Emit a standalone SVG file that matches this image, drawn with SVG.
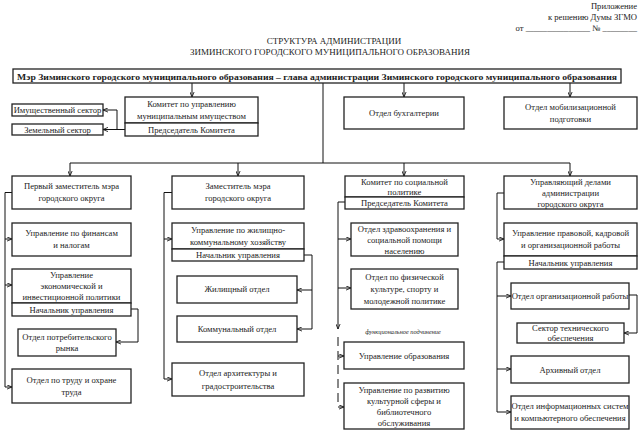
<svg xmlns="http://www.w3.org/2000/svg" width="643" height="442" viewBox="0 0 643 442">
<defs>
<marker id="ah" viewBox="0 0 6 6" refX="6" refY="3" markerWidth="5" markerHeight="5" orient="auto" markerUnits="userSpaceOnUse">
<path d="M0,0.5 L6,3 L0,5.5" fill="none" stroke="#111" stroke-width="1"/>
</marker>
<style>
rect{fill:#fff;stroke:#222;stroke-width:1.3}
text{font-family:"Liberation Serif","Times New Roman",serif;font-size:8.6px;fill:#222;text-anchor:middle}
.hd{font-size:8.6px;text-anchor:end}
.tt{font-size:9px}
.bold{font-weight:bold;font-size:9.2px}
.it{font-style:italic;font-size:6.3px}
#conn path{fill:none;stroke:#111;stroke-width:1}
#conn .a{marker-end:url(#ah)}
#conn .d{stroke-dasharray:9,5}
</style>
</defs>
<rect x="0" y="0" width="643" height="442" style="stroke:none;fill:#fff"/>
<g id="header">
<text class="hd" x="637" y="9">Приложение</text>
<text class="hd" x="637" y="20">к решению Думы ЗГМО</text>
<text class="hd" x="637" y="31">от _______________ № ________</text>
<text class="tt" x="334" y="44">СТРУКТУРА АДМИНИСТРАЦИИ</text>
<text class="tt" x="330" y="55">ЗИМИНСКОГО ГОРОДСКОГО МУНИЦИПАЛЬНОГО ОБРАЗОВАНИЯ</text>
</g>
<g id="conn">
<path d="M192,83 V97" class="a"/>
<path d="M323,83 V163"/>
<path d="M404,83 V97" class="a"/>
<path d="M570,83 V97" class="a"/>
<path d="M70,163 H570"/>
<path d="M70,163 V176" class="a"/>
<path d="M238,163 V176" class="a"/>
<path d="M404,163 V176" class="a"/>
<path d="M570,163 V176" class="a"/>
<path d="M125,129.5 H117 V110 H103" class="a"/>
<path d="M117,129.5 H103" class="a"/>
<path d="M12,192.5 H5 V387 H12" class="a"/>
<path d="M5,239 H12" class="a"/>
<path d="M5,285 H12" class="a"/>
<path d="M131,309 H138 V342 H116" class="a"/>
<path d="M172,192.5 H164 V379 H172" class="a"/>
<path d="M164,239 H172" class="a"/>
<path d="M304,255 H312 V329 H297" class="a"/>
<path d="M312,290 H297" class="a"/>
<path d="M345,202 H338 V329" class="a"/>
<path d="M338,239 H351" class="a"/>
<path d="M338,288 H351" class="a"/>
<path d="M338,337 V407 H344" class="a d"/>
<path d="M338,356 H344" class="a"/>
<path d="M504,193 H497 V239 H504" class="a"/>
<path d="M504,262 H497 V412 H511" class="a"/>
<path d="M497,296 H511" class="a"/>
<path d="M497,369 H511" class="a"/>
<path d="M629,295 H637 V333 H624" class="a"/>
</g>
<g id="mayor">
<rect x="13" y="69" width="608" height="14"/>
<text class="bold" x="317" y="79.5" textLength="600" lengthAdjust="spacingAndGlyphs">Мэр Зиминского городского муниципального образования – глава администрации Зиминского городского муниципального образования</text>
</g>
<g id="committee-property">
<rect x="125" y="97" width="133" height="26"/>
<rect x="125" y="123" width="133" height="13"/>
<text x="191.5" y="107">Комитет по управлению</text>
<text x="191.5" y="119">муниципальным имуществом</text>
<text x="191.5" y="132.5">Председатель Комитета</text>
</g>
<g id="property-sector">
<rect x="12" y="104" width="91" height="12"/>
<text x="57.5" y="113">Имущественный сектор</text>
</g>
<g id="land-sector">
<rect x="12" y="124" width="91" height="11"/>
<text x="57.5" y="132.5">Земельный сектор</text>
</g>
<g id="accounting">
<rect x="344" y="97" width="120" height="32"/>
<text x="404" y="116">Отдел бухгалтерии</text>
</g>
<g id="mobilization">
<rect x="504" y="97" width="133" height="32"/>
<text x="570.5" y="110">Отдел мобилизационной</text>
<text x="570.5" y="122">подготовки</text>
</g>
<g id="first-deputy">
<rect x="12" y="176" width="119" height="33"/>
<text x="71.5" y="189">Первый заместитель мэра</text>
<text x="71.5" y="201">городского округа</text>
</g>
<g id="finance">
<rect x="12" y="223" width="119" height="33"/>
<text x="71.5" y="236">Управление по финансам</text>
<text x="71.5" y="248">и налогам</text>
</g>
<g id="economy">
<rect x="12" y="269" width="119" height="34"/>
<rect x="12" y="303" width="119" height="13"/>
<text x="71.5" y="278">Управление</text>
<text x="71.5" y="289">экономической и</text>
<text x="71.5" y="300">инвестиционной политики</text>
<text x="71.5" y="312.5">Начальник управления</text>
</g>
<g id="consumer">
<rect x="18" y="329" width="98" height="27"/>
<text x="67" y="340">Отдел потребительского</text>
<text x="67" y="351">рынка</text>
</g>
<g id="labour">
<rect x="12" y="369" width="119" height="34"/>
<text x="71.5" y="383">Отдел по труду и охране</text>
<text x="71.5" y="395">труда</text>
</g>
<g id="deputy">
<rect x="172" y="176" width="132" height="33"/>
<text x="238" y="189">Заместитель мэра</text>
<text x="238" y="201">городского округа</text>
</g>
<g id="housing">
<rect x="172" y="223" width="132" height="26"/>
<rect x="172" y="249" width="132" height="12"/>
<text x="238" y="233">Управление по жилищно-</text>
<text x="238" y="245">коммунальному хозяйству</text>
<text x="238" y="258">Начальник управления</text>
</g>
<g id="housing-dept">
<rect x="177" y="276" width="120" height="27"/>
<text x="237" y="292">Жилищный отдел</text>
</g>
<g id="communal-dept">
<rect x="177" y="316" width="120" height="26"/>
<text x="237" y="332">Коммунальный отдел</text>
</g>
<g id="architecture">
<rect x="172" y="363" width="132" height="33"/>
<text x="238" y="376">Отдел архитектуры и</text>
<text x="238" y="389">градостроительства</text>
</g>
<g id="social-committee">
<rect x="345" y="176" width="119" height="21"/>
<rect x="345" y="197" width="119" height="12"/>
<text x="404.5" y="184.5">Комитет по социальной</text>
<text x="404.5" y="194.5">политике</text>
<text x="404.5" y="206">Председатель Комитета</text>
</g>
<g id="health">
<rect x="351" y="223" width="107" height="33"/>
<text x="404.5" y="232">Отдел здравоохранения и</text>
<text x="404.5" y="243">социальной помощи</text>
<text x="404.5" y="254">населению</text>
</g>
<g id="sport">
<rect x="351" y="269" width="107" height="40"/>
<text x="404.5" y="280">Отдел по физической</text>
<text x="404.5" y="292">культуре, спорту и</text>
<text x="404.5" y="304">молодежной политике</text>
</g>
<text class="it" x="403" y="334">функциональное подчинение</text>
<g id="education">
<rect x="344" y="342" width="120" height="27"/>
<text x="404" y="358.5">Управление образования</text>
</g>
<g id="culture">
<rect x="344" y="383" width="120" height="46"/>
<text x="404" y="393">Управление по развитию</text>
<text x="404" y="404">культурной сферы и</text>
<text x="404" y="415">библиотечного</text>
<text x="404" y="426">обслуживания</text>
</g>
<g id="manager">
<rect x="504" y="176" width="133" height="33"/>
<text x="570.5" y="185">Управляющий делами</text>
<text x="570.5" y="196">администрации</text>
<text x="570.5" y="207">городского округа</text>
</g>
<g id="legal">
<rect x="504" y="223" width="133" height="33"/>
<rect x="504" y="256" width="133" height="13"/>
<text x="570.5" y="236">Управление правовой, кадровой</text>
<text x="570.5" y="248">и организационной работы</text>
<text x="570.5" y="265.5">Начальник управления</text>
</g>
<g id="org-work">
<rect x="511" y="283" width="118" height="26"/>
<text x="570" y="299">Отдел организационной работы</text>
</g>
<g id="tech-sector">
<rect x="517" y="323" width="107" height="20"/>
<text x="570.5" y="331">Сектор технического</text>
<text x="570.5" y="341">обеспечения</text>
</g>
<g id="archive">
<rect x="511" y="356" width="118" height="27"/>
<text x="570" y="372.5">Архивный отдел</text>
</g>
<g id="it-dept">
<rect x="511" y="396" width="118" height="33"/>
<text x="570" y="409">Отдел информационных систем</text>
<text x="570" y="421">и компьютерного обеспечения</text>
</g>
</svg>
